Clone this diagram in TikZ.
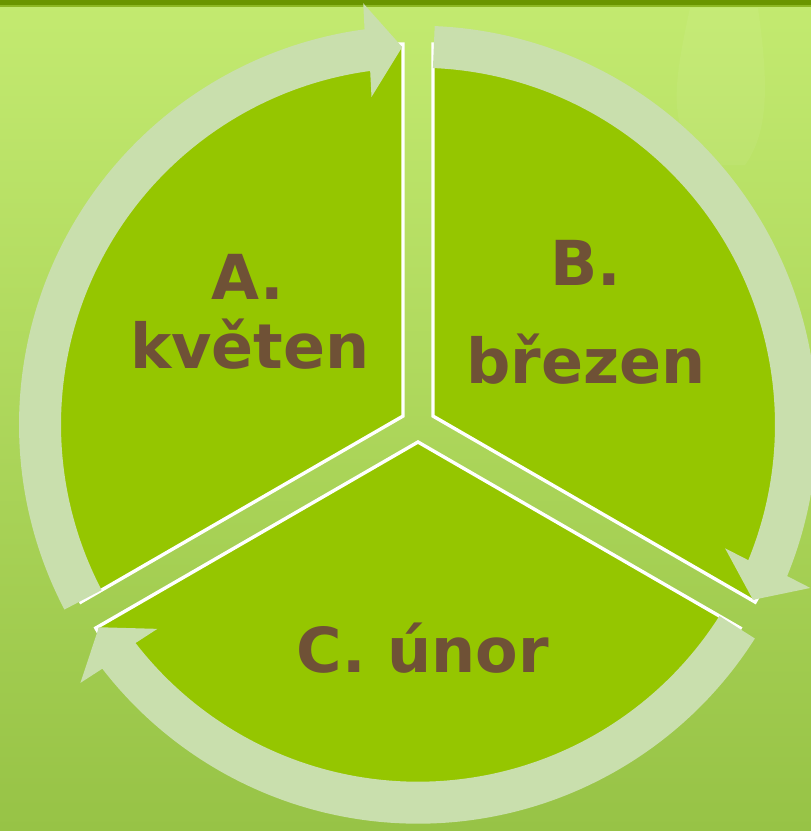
\documentclass[tikz,border=0pt]{standalone}
\usepackage{fontspec}
\newfontfamily\labelfont{DejaVu Sans}[BoldFont={DejaVu Sans Bold}]
\usetikzlibrary{calc}
\definecolor{bgtop}{HTML}{C3EA70}
\definecolor{bgbot}{HTML}{97C346}
\definecolor{barcol}{HTML}{6A9600}
\definecolor{barlight}{HTML}{8DB823}
\definecolor{secfill}{HTML}{95C600}
\definecolor{ringcol}{HTML}{C9DFAD}
\definecolor{txtcol}{HTML}{6F5136}
\newcommand\ringarrow[4]{% tail, base, tip, normal
  \fill[ringarrowstyle]
    ($(O)+(#1:399)$) arc[start angle=#1, end angle=#2, radius=399]
    -- ($(O)+(#2:378)+(#4:47)$)
    -- ($(O)+(#3:378)$)
    -- ($(O)+(#2:378)+(#4:-47)$)
    -- ($(O)+(#2:357)$) arc[start angle=#2, end angle=#1, radius=357]
    -- cycle;}
\begin{document}
\begin{tikzpicture}[x=1pt,y=1pt,
  sectorstyle/.style={fill=secfill, draw=white, line width=3.4pt, line join=miter},
  ringarrowstyle/.style={fill=ringcol},
  lbl/.style={text=txtcol, font=\labelfont\bfseries\fontsize{62}{68}\selectfont, anchor=base, inner sep=0pt}]
\useasboundingbox (0,0) rectangle (811,-831);
% background
\shade[top color=bgtop, bottom color=bgbot] (0,0) rectangle (811,-831);
\fill[white, opacity=0.05] (690,-8) .. controls (672,-90) and (668,-130) .. (705,-165)
  -- (745,-165) .. controls (770,-130) and (768,-80) .. (758,-8) -- cycle;
\fill[barlight] (0,-4) rectangle (811,-7);
\fill[barcol] (0,0) rectangle (811,-5);
% centre
\coordinate (O) at (418,-424.7);
% sectors
\filldraw[sectorstyle] ($(O)+(150:17.3)$) coordinate (pa) -- ++(90:372)
  arc[start angle=90, end angle=210, radius=372] -- cycle;
\filldraw[sectorstyle] ($(O)+(30:17.3)$) coordinate (pb) -- ++(-30:372)
  arc[start angle=-30, end angle=90, radius=372] -- cycle;
\filldraw[sectorstyle] ($(O)+(270:17.3)$) coordinate (pc) -- ++(210:372)
  arc[start angle=210, end angle=330, radius=372] -- cycle;
% circular arrows
\ringarrow{207.6}{97.7}{92.4}{95.05}
\ringarrow{87.6}{-22.3}{-27.6}{-24.95}
\ringarrow{-32.4}{-142.3}{-147.6}{-144.95}
% labels
\node[lbl] (a1) at (248,-299) {A.};
\node[lbl] (a2) at (250,-368) {květen};
\node[lbl] (b1) at (586,-285) {B.};
\node[lbl] (b2) at (586,-383) {březen};
\node[lbl] (c1) at (423,-672) {C. únor};
\end{tikzpicture}
\end{document}
